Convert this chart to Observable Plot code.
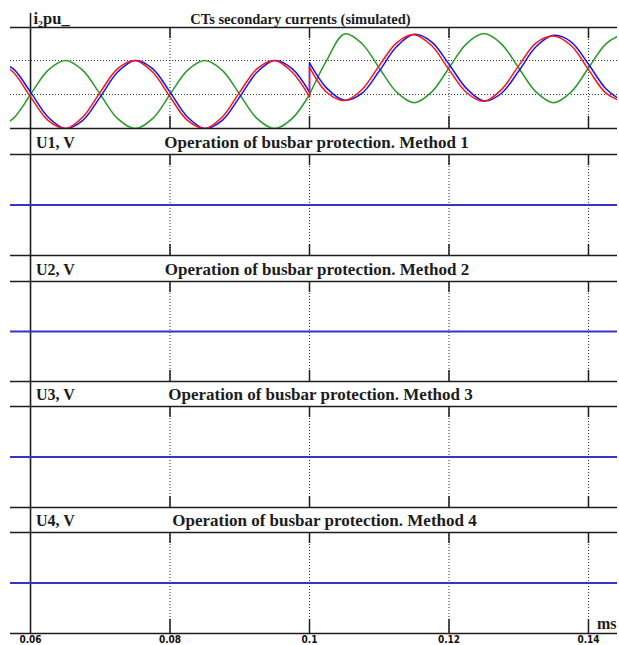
<!DOCTYPE html>
<html>
<head>
<meta charset="utf-8">
<script src="https://cdn.jsdelivr.net/npm/d3@7"></script>
<script src="https://cdn.jsdelivr.net/npm/@observablehq/plot@0.6"></script>
<style>
  html, body { margin: 0; padding: 0; background: #ffffff; }
  #chart { width: 619px; height: 645px; overflow: hidden; background: #ffffff; }
  #chart svg { display: block; overflow: visible; }
</style>
</head>
<body>
<div id="chart"></div>
<script>
// ---------------- data ----------------
// time, s
const tPre  = [0.055, 0.0575, 0.06, 0.0625, 0.065, 0.0675, 0.07, 0.0725, 0.075, 0.0775,
               0.08, 0.0825, 0.085, 0.0875, 0.09, 0.0925, 0.095, 0.0975, 0.1];
const tPost = [0.1, 0.1025, 0.105, 0.1075, 0.11, 0.1125, 0.115, 0.1175, 0.12, 0.1225,
               0.125, 0.1275, 0.13, 0.1325, 0.135, 0.1375, 0.14, 0.1425, 0.145];

// CT secondary currents, pu (before the fault)
const iRedPre   = [1, 0.66, -0.07, -0.76, -1, -0.66, 0.07, 0.76, 1, 0.66, -0.07, -0.76, -1, -0.66, 0.07, 0.76, 1, 0.66, -0.07];
const iBluePre  = [1, 0.76, 0.07, -0.66, -1, -0.76, -0.07, 0.66, 1, 0.76, 0.07, -0.66, -1, -0.76, -0.07, 0.66, 1, 0.76, 0.07];
const iGreenPre = [-1, -0.71, 0, 0.71, 1, 0.71, 0, -0.71, -1, -0.71, 0, 0.71, 1, 0.71, 0, -0.71, -1, -0.71, 0];

// CT secondary currents, pu (after the fault at 0.1)
const iRedPost   = [0.8, 0.06, -0.18, 0.14, 0.85, 1.52, 1.76, 1.44, 0.73, 0.06, -0.2, 0.14, 0.85, 1.52, 1.72, 1.44, 0.73, 0.04, -0.22];
const iBluePost  = [0.93, 0.18, -0.17, 0.03, 0.69, 1.41, 1.77, 1.55, 0.89, 0.18, -0.19, 0.03, 0.69, 1.41, 1.74, 1.55, 0.89, 0.17, -0.21];
const iGreenPost = [0, 1.02, 1.78, 1.5, 0.78, 0.07, -0.24, 0.07, 0.78, 1.49, 1.79, 1.49, 0.78, 0.07, -0.24, 0.07, 0.78, 1.49, 1.79];

// dotted reference levels of the current panel, pu
const iLevels = [0, 1];

// protection outputs, V
const uTime = [0.055, 0.145];
const u1 = [0, 0];
const u2 = [0, 0];
const u3 = [0, 0];
const u4 = [0, 0];

// axis
const xTicks = [0.06, 0.08, 0.1, 0.12, 0.14];
const xTickLabels = ["0.06", "0.08", "0.1", "0.12", "0.14"];
const xUnit = "ms";

// texts
const currentUnit = "i\u2082pu_";
const currentTitle = "CTs secondary currents (simulated)";
const uUnits = ["U1, V", "U2, V", "U3, V", "U4, V"];
const uTitles = [
  "Operation of busbar protection. Method 1",
  "Operation of busbar protection. Method 2",
  "Operation of busbar protection. Method 3",
  "Operation of busbar protection. Method 4"
];

// ---------------- tables built from the arrays ----------------
function phaseRows(pre, post) {
  const a = tPre.map((t, i) => ({t, v: pre[i], seg: "pre"}));
  const b = tPost.map((t, i) => ({t, v: post[i], seg: "post"}));
  const j = [{t: tPre[tPre.length - 1], v: pre[pre.length - 1], seg: "jump"},
             {t: tPost[0], v: post[0], seg: "jump"}];
  return {smooth: a.concat(b), jump: j};
}
const red = phaseRows(iRedPre, iRedPost);
const blue = phaseRows(iBluePre, iBluePost);
const green = phaseRows(iGreenPre, iGreenPost);
const uRows = [u1, u2, u3, u4].map(u => uTime.map((t, i) => ({t, v: u[i]})));

// ---------------- drawing ----------------
const W = 619, ML = 10, MR = 2;
const xDomain = [0.05713, 0.14416];
const iDomain = [-1.0, 1.97];
const uDomain = [-1, 1];
const serif = "'Liberation Serif', 'Times New Roman', Times, serif";
const ink = "#1c1c1c";

function gridMarks(yDomain, ph, extendTop, bottomTick) {
  const g = xTicks.slice(1);
  return [
    Plot.ruleX(g, {stroke: "#333", strokeWidth: 1, strokeDasharray: "1,2"}),
    Plot.ruleX(g, {stroke: ink, strokeWidth: 1.5, insetBottom: ph - 11}),
    Plot.ruleX(g, {stroke: ink, strokeWidth: 1.5, insetTop: ph - bottomTick}),
    Plot.ruleX(xTicks.slice(0, 1), {stroke: ink, strokeWidth: 1.6, insetTop: -extendTop}),
    Plot.ruleY(yDomain, {stroke: ink, strokeWidth: 1.6})
  ];
}

function headerMarks(unit, title, mt, baseline, unitDx, titleDx, unitSize, titleSize) {
  return [
    Plot.text([unit], {text: d => d, frameAnchor: "top-left", textAnchor: "start", lineAnchor: "bottom",
      dx: unitDx, dy: baseline - mt, fontFamily: serif, fontWeight: "bold", fontSize: unitSize, fill: ink}),
    Plot.text([title], {text: d => d, frameAnchor: "top", textAnchor: "middle", lineAnchor: "bottom",
      dx: titleDx, dy: baseline - mt, fontFamily: serif, fontWeight: "bold", fontSize: titleSize, fill: ink})
  ];
}

const chart = document.getElementById("chart");
const baseStyle = {overflow: "visible", background: "none",
  fontFamily: "'Liberation Sans Narrow', 'Arial Narrow', 'DejaVu Sans Condensed', sans-serif",
  fontSize: "10px", fontWeight: "bold", color: "#111"};

// panel 0: currents
{
  const h = 128, mt = 27, ph = h - mt;
  const lineOpts = {x: "t", y: "v", z: "seg", strokeWidth: 1.5, curve: "catmull-rom", clip: true};
  const jumpOpts = {x: "t", y: "v", strokeWidth: 1.5, clip: true};
  chart.append(Plot.plot({
    width: W, height: h, marginTop: mt, marginBottom: 0, marginLeft: ML, marginRight: MR,
    style: baseStyle,
    x: {domain: xDomain, axis: null},
    y: {domain: iDomain, axis: null},
    marks: [
      Plot.ruleY(iLevels, {stroke: "#333", strokeWidth: 1, strokeDasharray: "1,2"}),
      ...gridMarks(iDomain, ph, 14, 12),
      Plot.line(green.smooth, {...lineOpts, stroke: "#2a9a2a"}),
      Plot.line(green.jump, {...jumpOpts, stroke: "#2a9a2a"}),
      Plot.line(blue.smooth, {...lineOpts, stroke: "#1414ff"}),
      Plot.line(blue.jump, {...jumpOpts, stroke: "#1414ff"}),
      Plot.line(red.smooth, {...lineOpts, stroke: "#ff1414"}),
      Plot.line(red.jump, {...jumpOpts, stroke: "#ff1414"}),
      ...headerMarks(currentUnit, currentTitle, mt, 23, 23, -13.5, 16.5, 14.5)
    ]
  }));
}

// panels 1-4: protection outputs
const uLayout = [
  {h: 127, mt: 26, mb: 0, titleDx: 2.5},
  {h: 126, mt: 26, mb: 0, titleDx: 3},
  {h: 126, mt: 25, mb: 0, titleDx: 6.5},
  {h: 138, mt: 25, mb: 12, titleDx: 10.5}
];
uLayout.forEach((L, k) => {
  const ph = L.h - L.mt - L.mb;
  const last = k === uLayout.length - 1;
  const marks = [
    ...gridMarks(uDomain, ph, L.mt, last ? 14 : 11),
    Plot.line(uRows[k], {x: "t", y: "v", stroke: "#3434c8", strokeWidth: 2, clip: true}),
    ...headerMarks(uUnits[k], uTitles[k], L.mt, L.mt - 6.5, 25.5, L.titleDx, 16, 17)
  ];
  if (last) {
    marks.push(Plot.text([xUnit], {text: d => d, frameAnchor: "bottom-right", textAnchor: "end", lineAnchor: "bottom",
      dx: -1, dy: -5, fontFamily: serif, fontWeight: "bold", fontSize: 16, fill: ink}));
  }
  chart.append(Plot.plot({
    width: W, height: L.h, marginTop: L.mt, marginBottom: L.mb, marginLeft: ML, marginRight: MR,
    style: baseStyle,
    x: last
      ? {domain: xDomain, ticks: xTicks, tickFormat: d => xTickLabels[xTicks.indexOf(d)], tickSize: 0, tickPadding: 2, label: null}
      : {domain: xDomain, axis: null},
    y: {domain: uDomain, axis: null},
    marks
  }));
});
</script>
</body>
</html>
